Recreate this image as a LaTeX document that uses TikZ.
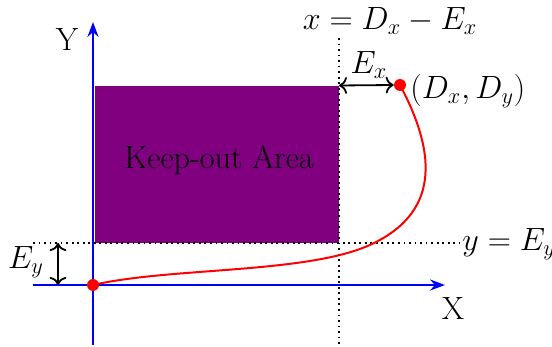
\documentclass[tikz,border=0pt]{standalone}
\usetikzlibrary{arrows.meta}
\definecolor{keep}{RGB}{128,0,128}
\begin{document}
\begin{tikzpicture}[x=0.537pt,y=-0.537pt, font=\LARGE,
  axis/.style={blue, line width=1.29pt, -{Stealth[length=8pt,width=5.9pt]}},
  guide/.style={dotted, line width=0.97pt},
  dim/.style={line width=0.97pt, {Computer Modern Rightarrow[scale=1.15]}-{Computer Modern Rightarrow[scale=1.15]}},
  dot/.style={circle, fill=red, inner sep=0pt, minimum size=6.4pt},
  lbl/.style={inner sep=0pt}]
\useasboundingbox (0,0) rectangle (552,347);
% keep-out area
\fill[keep] (95,86) rectangle (339,243);
\node[lbl] (area) at (219,160) {Keep-out Area};
% guides
\coordinate (gvt) at (339,38);
\coordinate (gvb) at (339,347);
\coordinate (ghl) at (33,243);
\coordinate (ghr) at (460,243);
\draw[guide] (gvt) -- (gvb);
\draw[guide] (ghl) -- (ghr);
% axes
\coordinate (O) at (93,285);
\coordinate (ybot) at (93,345);
\coordinate (ytop) at (93,22);
\coordinate (xl) at (33,285);
\coordinate (xr) at (445,285);
\draw[axis] (ybot) -- (ytop);
\draw[axis] (xl) -- (xr);
\node[lbl] (Ylab) at (67,40) {Y};
\node[lbl] (Xlab) at (453,309) {X};
% path
\coordinate (G) at (400,85);
\coordinate (M) at (372,244);
\draw[red, line width=1.07pt] (O) .. controls (171,267) and (309,274) .. (M)
  .. controls (444,210) and (433,147) .. (G);
\node[dot] (start) at (O) {};
\node[dot] (goal) at (G) {};
\node[lbl, anchor=west] (goallab) at (410,91) {$(D_x,D_y)$};
% labels of guides
\node[lbl] (xeq) at (390,21) {$x=D_x-E_x$};
\node[lbl, anchor=west] (yeq) at (462,244) {$y=E_y$};
% dimensions
\coordinate (exa) at (339,85.5);
\draw[dim] (exa) -- (goal.west);
\node[lbl] (exlab) at (369,65) {$E_x$};
\coordinate (eya) at (58,243);
\coordinate (eyb) at (58,285);
\draw[dim] (eya) -- (eyb);
\node[lbl] (eylab) at (26,262) {$E_y$};
\end{tikzpicture}
\end{document}
